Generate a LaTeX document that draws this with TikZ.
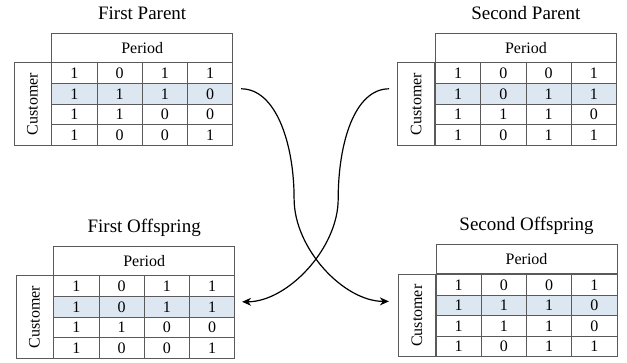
\documentclass[tikz,border=0pt]{standalone}
\usepackage{fontspec}
\setmainfont{Liberation Serif}
\usepackage{graphicx}
\usepackage{tikz}
\usetikzlibrary{arrows.meta, calc, positioning}

\definecolor{tabline}{HTML}{5A5A5A}
\definecolor{rowblue}{HTML}{DDE7F2}

\tikzset{
  tabfont/.style={font=\fontsize{16}{18}\selectfont},
  headbox/.style={draw=tabline, line width=0.8pt, tabfont, anchor=north west,
    minimum width=181pt, minimum height=29pt, inner sep=0pt},
  custbox/.style={draw=tabline, line width=0.8pt, tabfont, anchor=north east,
    minimum width=37pt, minimum height=82.4pt, inner sep=0pt},
  cell/.style={draw=tabline, line width=0.8pt, tabfont, anchor=north west,
    minimum width=45.25pt, minimum height=20.6pt, inner sep=0pt},
  hl2/.style={fill=rowblue},
  titletext/.style={font=\fontsize{19}{22}\selectfont, anchor=base, inner sep=0pt},
  link/.style={line width=1.2pt, -{Stealth[length=9pt, width=8pt]}}
}

% one chromosome: name, x, y (top left of the Period box), title, rows
\newcommand{\chromtable}[5]{%
  \node[headbox] (#1-head) at (#2,#3) {Period};
  \node[custbox] (#1-cust) at (#1-head.south west) {\rotatebox{90}{Customer}};
  \node[titletext] (#1-title) at ([yshift=13.5pt]#1-head.north) {#4};
  \foreach \ca/\cb/\cc/\cd [count=\r] in {#5} {
    \foreach \v [count=\c] in {\ca,\cb,\cc,\cd}
      \node[cell, hl\r/.try] (#1-\r-\c)
        at ($(#1-head.south west)+(\c*45.25-45.25, \r*20.6-20.6)$) {\v};
  }
}

\begin{document}
\begin{tikzpicture}[x=1pt, y=-1pt]
  \useasboundingbox (0,0) rectangle (627,363);

  \chromtable{fp}{51.3}{32.7}{First Parent}{1/0/1/1, 1/1/1/0, 1/1/0/0, 1/0/0/1}
  \chromtable{sp}{435}{32.7}{Second Parent}{1/0/0/1, 1/0/1/1, 1/1/1/0, 1/0/1/1}
  \chromtable{fo}{53.3}{245.7}{First Offspring}{1/0/1/1, 1/0/1/1, 1/1/0/0, 1/0/0/1}
  \chromtable{so}{435.7}{244.3}{Second Offspring}{1/0/0/1, 1/1/1/0, 1/1/1/0, 1/0/1/1}

  % crossover of the second row
  \draw[link] ([xshift=8pt, yshift=5pt]fp-2-4.east)
    .. controls +(35,0) and +(0,-55) .. ++(53,110)
    .. controls +(0,50) and +(-45,0) .. ([xshift=-9pt, yshift=4pt]so-cust.west |- so-2-1.center);
  \draw[link] ([xshift=-8pt, yshift=5pt]sp-cust.west |- sp-2-1.center)
    .. controls +(-35,0) and +(0,-55) .. ++(-51,110)
    .. controls +(0,50) and +(45,0) .. ([xshift=7pt, yshift=5pt]fo-2-4.east);
\end{tikzpicture}
\end{document}
